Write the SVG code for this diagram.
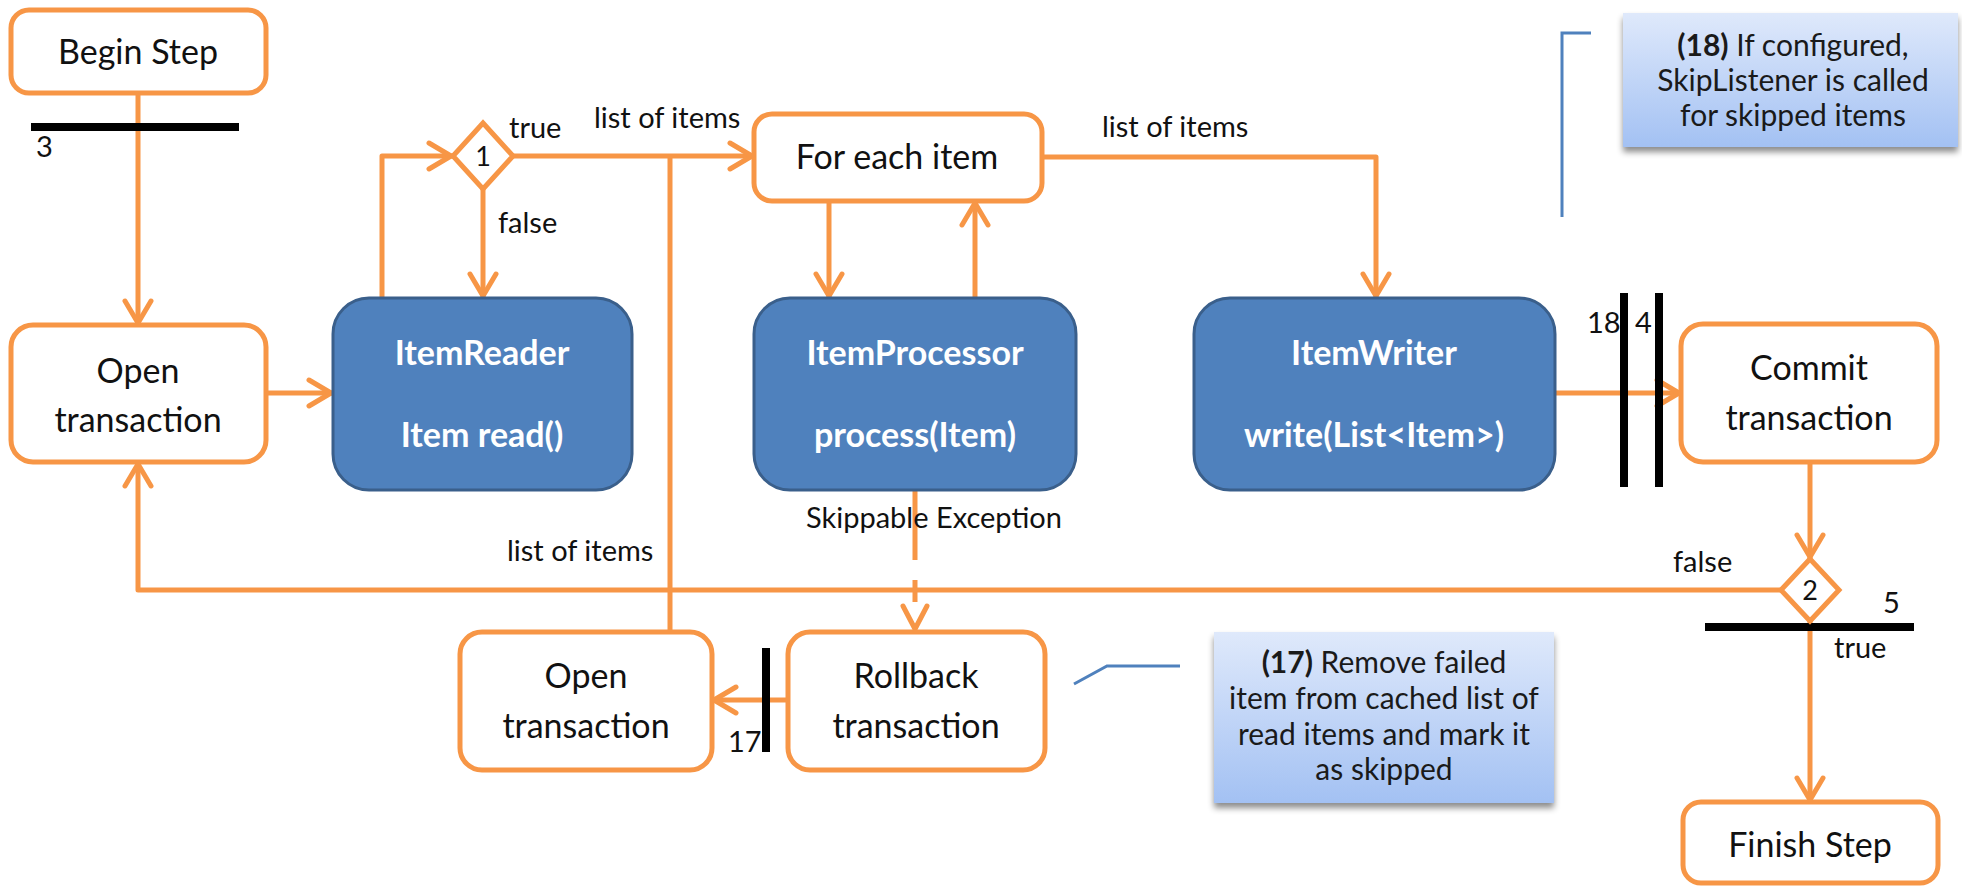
<svg xmlns="http://www.w3.org/2000/svg" width="1962" height="887" viewBox="0 0 1962 887">
  <style>
    text { font-family: Lato, "Liberation Sans", sans-serif; fill: #111; }
    .node { fill: #fff; stroke: #F79646; stroke-width: 5; }
    .blue { fill: #4F81BD; stroke: #3A5F8B; stroke-width: 3; }
    .big { font-size: 34px; text-anchor: middle; }
    .bold { font-weight: bold; fill: #fff; }
    .lbl { font-size: 29px; }
    .num { font-size: 27px; text-anchor: middle; }
    .note { font-size: 30px; text-anchor: middle; fill: #1a1a1a; }
    .flow { fill: none; stroke: #F79646; stroke-width: 5; stroke-linejoin: round; }
    .arrow { marker-end: url(#chev); }
    .bar { fill: #000; }
    .callout { fill: none; stroke: #4F81BD; stroke-width: 3; }
  </style>
  <defs>
    <marker id="chev" viewBox="-28 -16 32 32" markerUnits="userSpaceOnUse" markerWidth="32" markerHeight="32" refX="0" refY="0" orient="auto">
      <path d="M-24,-13 L-2,0 L-24,13" fill="none" stroke="#F79646" stroke-width="5" stroke-linecap="round" stroke-linejoin="round"/>
    </marker>
    <linearGradient id="noteFill" x1="0" y1="0" x2="0" y2="1">
      <stop offset="0" stop-color="#DFE9FB"/>
      <stop offset="1" stop-color="#A3C1F3"/>
    </linearGradient>
    <filter id="shadow" x="-10%" y="-10%" width="120%" height="130%">
      <feDropShadow dx="0" dy="5" stdDeviation="3" flood-color="#000" flood-opacity="0.45"/>
    </filter>
  </defs>

  <!-- connectors -->
  <g id="connectors">
    <path class="flow arrow" d="M138 93 V325"/>
    <path class="flow arrow" d="M266 393 H333"/>
    <path class="flow arrow" d="M382 298 V156 H453"/>
    <path class="flow arrow" d="M483 189 V298"/>
    <path class="flow arrow" d="M513 156 H754"/>
    <path class="flow" d="M670 632 V156"/>
    <path class="flow arrow" d="M829 201 V298"/>
    <path class="flow arrow" d="M975 298 V201"/>
    <path class="flow arrow" d="M1042 157 H1376 V298"/>
    <path class="flow arrow" d="M1555 393 H1681"/>
    <path class="flow arrow" d="M1810 462 V559"/>
    <path class="flow arrow" d="M1810 621 V802"/>
    <path class="flow arrow" d="M1781 590 H138 V462"/>
    <path class="flow" d="M915 490 V602" stroke-dasharray="70 20"/>
    <path class="flow" d="M903 606 L915 629 L927 606" stroke-linecap="round"/>
    <path class="flow arrow" d="M788 700 H712"/>
    <!-- callout leaders -->
    <path class="callout" d="M1591 33 H1562 V217"/>
    <path class="callout" d="M1074 684 L1107 666 H1180"/>
  </g>

  <!-- synchronisation bars -->
  <g id="bars">
    <rect class="bar" x="31" y="123" width="208" height="8"/>
    <rect class="bar" x="1620" y="293" width="8" height="194"/>
    <rect class="bar" x="1655" y="293" width="8" height="194"/>
    <rect class="bar" x="762" y="648" width="8" height="104"/>
    <rect class="bar" x="1705" y="623" width="209" height="8"/>
  </g>

  <!-- connector labels -->
  <g id="labels">
    <text class="lbl" x="509" y="138">true</text>
    <text class="lbl" x="498" y="233">false</text>
    <text class="lbl" x="594" y="128">list of items</text>
    <text class="lbl" x="1102" y="137">list of items</text>
    <text class="lbl" x="507" y="561">list of items</text>
    <text class="lbl" x="806" y="528">Skippable Exception</text>
    <text class="lbl" x="36" y="157">3</text>
    <text class="lbl" x="1587" y="333">18</text>
    <text class="lbl" x="1635" y="333">4</text>
    <text class="lbl" x="1673" y="572">false</text>
    <text class="lbl" x="1883" y="613">5</text>
    <text class="lbl" x="1834" y="658">true</text>
    <text class="lbl" x="728" y="752">17</text>
  </g>

  <g id="begin-step">
    <rect class="node" x="11" y="10" width="255" height="83" rx="18"/>
    <text class="big" x="138" y="64">Begin Step</text>
  </g>

  <g id="open-transaction">
    <rect class="node" x="11" y="325" width="255" height="137" rx="22"/>
    <text class="big" x="138" y="383">Open</text>
    <text class="big" x="138" y="432">transaction</text>
  </g>

  <g id="item-reader">
    <rect class="blue" x="333" y="298" width="299" height="192" rx="36"/>
    <text class="big bold" x="482" y="365">ItemReader</text>
    <text class="big bold" x="482" y="447">Item read()</text>
  </g>

  <g id="decision-1">
    <polygon class="node" points="483,123 513,156 483,189 453,156"/>
    <text class="num" x="483" y="166">1</text>
  </g>

  <g id="for-each-item">
    <rect class="node" x="754" y="114" width="288" height="87" rx="18"/>
    <text class="big" x="897" y="169">For each item</text>
  </g>

  <g id="item-processor">
    <rect class="blue" x="754" y="298" width="322" height="192" rx="36"/>
    <text class="big bold" x="915" y="365">ItemProcessor</text>
    <text class="big bold" x="915" y="447">process(Item)</text>
  </g>

  <g id="item-writer">
    <rect class="blue" x="1194" y="298" width="361" height="192" rx="36"/>
    <text class="big bold" x="1374" y="365">ItemWriter</text>
    <text class="big bold" x="1374" y="447">write(List&lt;Item&gt;)</text>
  </g>

  <g id="commit-transaction">
    <rect class="node" x="1681" y="324" width="256" height="138" rx="22"/>
    <text class="big" x="1809" y="380">Commit</text>
    <text class="big" x="1809" y="430">transaction</text>
  </g>

  <g id="decision-2">
    <polygon class="node" points="1810,559 1839,590 1810,621 1781,590"/>
    <text class="num" x="1810" y="600">2</text>
  </g>

  <g id="finish-step">
    <rect class="node" x="1683" y="802" width="255" height="81" rx="18"/>
    <text class="big" x="1810" y="857">Finish Step</text>
  </g>

  <g id="open-transaction-2">
    <rect class="node" x="460" y="632" width="252" height="138" rx="22"/>
    <text class="big" x="586" y="688">Open</text>
    <text class="big" x="586" y="738">transaction</text>
  </g>

  <g id="rollback-transaction">
    <rect class="node" x="788" y="632" width="257" height="138" rx="22"/>
    <text class="big" x="916" y="688">Rollback</text>
    <text class="big" x="916" y="738">transaction</text>
  </g>

  <g id="note-18">
    <rect x="1623" y="13" width="335" height="134" fill="url(#noteFill)" filter="url(#shadow)"/>
    <text class="note" x="1793" y="56"><tspan font-weight="bold">(18)</tspan> If configured,</text>
    <text class="note" x="1793" y="91">SkipListener is called</text>
    <text class="note" x="1793" y="126">for skipped items</text>
  </g>

  <g id="note-17">
    <rect x="1214" y="632" width="340" height="171" fill="url(#noteFill)" filter="url(#shadow)"/>
    <text class="note" x="1384" y="673"><tspan font-weight="bold">(17)</tspan> Remove failed</text>
    <text class="note" x="1384" y="709">item from cached list of</text>
    <text class="note" x="1384" y="745">read items and mark it</text>
    <text class="note" x="1384" y="780">as skipped</text>
  </g>
</svg>
